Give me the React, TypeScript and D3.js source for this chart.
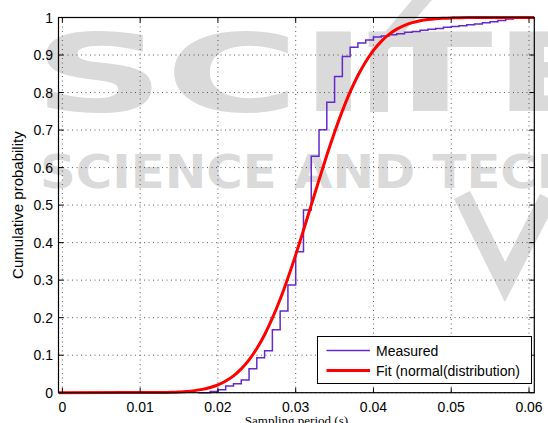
import React from "react";
import * as d3 from "d3";

// Empirical CDF of the measured sampling periods (step positions in s, level after each step)
const measuredX = [
  0.0175, 0.019, 0.02, 0.021, 0.022, 0.023, 0.024, 0.025, 0.026, 0.027, 0.028, 0.029,
  0.03, 0.031, 0.032, 0.033, 0.034, 0.035, 0.036, 0.037, 0.038, 0.039, 0.04, 0.041,
  0.042, 0.043, 0.044, 0.045, 0.046, 0.047, 0.048, 0.049, 0.05, 0.051, 0.052, 0.053,
  0.054, 0.055, 0.056, 0.057, 0.058,
];
const measuredP = [
  0, 0.003, 0.008, 0.018, 0.024, 0.034, 0.064, 0.093, 0.112, 0.168, 0.218, 0.287,
  0.376, 0.487, 0.63, 0.701, 0.774, 0.843, 0.896, 0.921, 0.932, 0.94, 0.948, 0.951,
  0.954, 0.957, 0.961, 0.963, 0.966, 0.969, 0.971, 0.974, 0.976, 0.978, 0.981, 0.983,
  0.986, 0.989, 0.992, 0.996, 1.0,
];

// Fitted normal-distribution CDF, sampled along the period axis
const fitX = [
  0, 0.013, 0.014, 0.015, 0.016, 0.017, 0.018, 0.019, 0.02, 0.021, 0.022, 0.023, 0.024,
  0.025, 0.026, 0.027, 0.028, 0.029, 0.03, 0.031, 0.032, 0.033, 0.034, 0.035, 0.036,
  0.037, 0.038, 0.039, 0.04, 0.041, 0.042, 0.043, 0.044, 0.045, 0.046, 0.047, 0.048,
  0.049, 0.05, 0.051, 0.052, 0.06,
];
const fitP = [
  0, 0.0006, 0.0011, 0.002, 0.0033, 0.0055, 0.0088, 0.0138, 0.021, 0.0311, 0.045, 0.0636,
  0.0876, 0.1178, 0.1546, 0.1985, 0.2489, 0.3057, 0.3673, 0.4329, 0.5, 0.5671, 0.6327,
  0.6943, 0.7511, 0.8015, 0.8454, 0.8822, 0.9124, 0.9364, 0.955, 0.9689, 0.979, 0.9862,
  0.9912, 0.9945, 0.9967, 0.998, 0.9989, 0.9995, 0.9998, 1.0,
];

const xTicks = [0, 0.01, 0.02, 0.03, 0.04, 0.05, 0.06];
const xTickLabels = ["0", "0.01", "0.02", "0.03", "0.04", "0.05", "0.06"];
const yTicks = [0, 0.1, 0.2, 0.3, 0.4, 0.5, 0.6, 0.7, 0.8, 0.9, 1];
const yTickLabels = ["0", "0.1", "0.2", "0.3", "0.4", "0.5", "0.6", "0.7", "0.8", "0.9", "1"];
const seriesNames = ["Measured", "Fit (normal(distribution)"];

const W = 548;
const H = 423;
const L = 58.5;
const R = 534.3;
const T = 17.5;
const B = 392.7;
const X_DOMAIN: [number, number] = [-0.0005, 0.06068];

const MEASURED_COLOR = "#6428cc";
const FIT_COLOR = "#ff0000";
const WATERMARK = "#dadada";
const SANS = "'Liberation Sans', Arial, Helvetica, sans-serif";

export default function App() {
  const x = d3.scaleLinear().domain(X_DOMAIN).range([L, R]);
  const y = d3.scaleLinear().domain([0, 1]).range([B, T]);

  const measuredPts: [number, number][] = measuredX.map((v, i) => [v, measuredP[i]]);
  const fitPts: [number, number][] = [
    [X_DOMAIN[0], fitP[0]],
    ...fitX.map((v, i) => [v, fitP[i]] as [number, number]),
    [X_DOMAIN[1], fitP[fitP.length - 1]],
  ];

  const stairs = d3
    .line<[number, number]>()
    .x((d) => x(d[0]))
    .y((d) => y(d[1]))
    .curve(d3.curveStepAfter);
  const smooth = d3
    .line<[number, number]>()
    .x((d) => x(d[0]))
    .y((d) => y(d[1]))
    .curve(d3.curveMonotoneX);

  const tickLen = 5;
  const grid = { stroke: "#333", strokeWidth: 0.8, strokeDasharray: "1 3.5" };

  return (
    <svg width={W} height={H} style={{ position: "absolute", left: 0, top: 0, background: "#fff" }}>
      <defs>
        <clipPath id="plot-area">
          <rect x={L} y={T - 2} width={R - L} height={B - T + 4} />
        </clipPath>
      </defs>

      {/* background publisher watermark */}
      <g fill={WATERMARK} fontFamily="'DejaVu Sans', sans-serif" fontWeight="bold">
        <text x={33} y={111} fontSize={108} textLength={585} lengthAdjust="spacingAndGlyphs">
          SCITE
        </text>
        <text x={40} y={188} fontSize={46} textLength={770} lengthAdjust="spacingAndGlyphs">
          SCIENCE AND TECHNOLOGY
        </text>
        <polygon points="412,0 432,0 388,50 388,112 370,112 370,50" />
        <polyline
          points="462,195 505,282 548,198"
          fill="none"
          stroke={WATERMARK}
          strokeWidth={18}
        />
      </g>

      {/* grid */}
      <g {...grid}>
        {xTicks.map((t) => (
          <line key={"gx" + t} x1={x(t)} x2={x(t)} y1={T} y2={B} />
        ))}
        {yTicks.map((t) => (
          <line key={"gy" + t} x1={L} x2={R} y1={y(t)} y2={y(t)} />
        ))}
      </g>

      {/* series */}
      <g clipPath="url(#plot-area)" fill="none">
        <path d={stairs(measuredPts) ?? ""} stroke={MEASURED_COLOR} strokeWidth={1.5} />
        <path d={smooth(fitPts) ?? ""} stroke={FIT_COLOR} strokeWidth={3} strokeLinejoin="round" />
      </g>

      {/* frame and ticks */}
      <rect x={L} y={T} width={R - L} height={B - T} fill="none" stroke="#000" strokeWidth={1.2} />
      <g stroke="#000" strokeWidth={1}>
        {xTicks.map((t) => (
          <g key={"tx" + t}>
            <line x1={x(t)} x2={x(t)} y1={B} y2={B - tickLen} />
            <line x1={x(t)} x2={x(t)} y1={T} y2={T + tickLen} />
          </g>
        ))}
        {yTicks.map((t) => (
          <g key={"ty" + t}>
            <line x1={L} x2={L + tickLen} y1={y(t)} y2={y(t)} />
            <line x1={R} x2={R - tickLen} y1={y(t)} y2={y(t)} />
          </g>
        ))}
      </g>

      {/* tick labels */}
      <g fontFamily={SANS} fontSize={14} fill="#000">
        {xTicks.map((t, i) => (
          <text key={"lx" + t} x={x(t)} y={411.5} textAnchor="middle">
            {xTickLabels[i]}
          </text>
        ))}
        {yTicks.map((t, i) => (
          <text key={"ly" + t} x={53} y={y(t) + 5} textAnchor="end">
            {yTickLabels[i]}
          </text>
        ))}
      </g>

      {/* axis titles */}
      <text
        transform={`translate(22.5, ${(T + B) / 2}) rotate(-90)`}
        textAnchor="middle"
        fontFamily={SANS}
        fontSize={15}
      >
        Cumulative probability
      </text>
      <text
        x={(L + R) / 2}
        y={425}
        textAnchor="middle"
        fontFamily="'Liberation Serif', 'Times New Roman', serif"
        fontSize={13}
      >
        Sampling period (s)
      </text>

      {/* legend */}
      <g>
        <rect x={317.5} y={336.5} width={214} height={47} fill="#fff" stroke="#000" strokeWidth={1} />
        <line x1={326.5} x2={370} y1={350.5} y2={350.5} stroke={MEASURED_COLOR} strokeWidth={1.5} />
        <line x1={326.5} x2={370} y1={370.5} y2={370.5} stroke={FIT_COLOR} strokeWidth={3} />
        <text x={376} y={355.5} fontFamily={SANS} fontSize={14}>
          {seriesNames[0]}
        </text>
        <text x={376} y={375.5} fontFamily={SANS} fontSize={14}>
          {seriesNames[1]}
        </text>
      </g>
    </svg>
  );
}
